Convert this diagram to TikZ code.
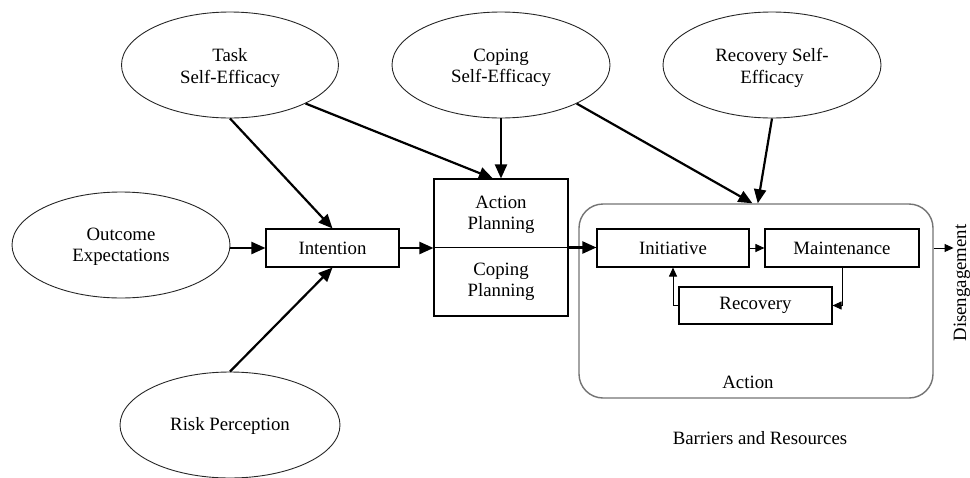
\documentclass[tikz,border=0pt]{standalone}
\usepackage{fontspec}
\setmainfont{Liberation Serif}
\usetikzlibrary{shapes.geometric,arrows.meta,calc}
\begin{document}
\begin{tikzpicture}[x=1pt,y=-1pt,
  every node/.style={font=\fontsize{18.8}{21.5}\selectfont, align=center, inner sep=0pt},
  oval/.style={ellipse, draw=black!85, line width=0.9pt},
  box/.style={rectangle, draw=black, line width=1.1pt},
  bigarrow/.style={line width=2.2pt, -{Triangle[length=14pt,width=12pt]}},
  smallarrow/.style={line width=1pt, -{Triangle[length=9pt,width=8pt]}}]
\useasboundingbox (0,0) rectangle (970,477);
% ellipses
\node[oval, minimum width=217pt, minimum height=106pt] (task) at (230,65) {};
\node[oval, minimum width=218pt, minimum height=106pt] (coping) at (501,65) {};
\node[oval, minimum width=218pt, minimum height=106pt] (recse) at (772,65) {};
\node[oval, minimum width=218pt, minimum height=106pt] (outcome) at (121,245) {};
\node[oval, minimum width=220pt, minimum height=106pt] (risk) at (230,425) {};
\node (tasklbl) at (230,68) {Task\\Self-Efficacy};
\node (copinglbl) at (501,68) {Coping\\Self-Efficacy};
\node (recselbl) at (772,68) {Recovery Self-\\Efficacy};
\node (outcomelbl) at (121,247) {Outcome\\Expectations};
\node (risklbl) at (230,426) {Risk Perception};
% boxes
\node[box, minimum width=133pt, minimum height=38pt] (intention) at (332.5,248) {Intention};
\node[box, minimum width=134pt, minimum height=137pt] (plan) at (501,247.5) {};
\node (aplan) at (501,215) {Action\\Planning};
\node (cplan) at (501,282) {Coping\\Planning};
\node[rectangle, draw=black!55, line width=1.4pt, rounded corners=24pt, minimum width=354pt, minimum height=194pt] (action) at (756,301) {};
\node[box, minimum width=152pt, minimum height=38pt] (init) at (673,248) {Initiative};
\node[box, minimum width=154pt, minimum height=38pt] (maint) at (842,248) {Maintenance};
\node[box, minimum width=153pt, minimum height=37pt] (recov) at (755.5,305.5) {Recovery};
\node (actlabel) at (748,382) {Action};
\node (barriers) at (760,438) {Barriers and Resources};
\node[rotate=90] (diseng) at (962,283) {Disengagement};
% connectors
\draw[bigarrow] (task.south) -- (intention.north);
\draw[bigarrow] (task.-27) -- ($(plan.north west)!0.44!(plan.north east)$);
\draw[bigarrow] (coping.south) -- (plan.north);
\draw[bigarrow] (coping.-27) -- ($(action.north west)!0.49!(action.north east)$);
\draw[bigarrow] (recse.south) -- ($(action.north west)!0.505!(action.north east)$);
\draw[bigarrow] (outcome.east |- intention.west) -- (intention.west);
\draw[bigarrow] (risk.north) -- (intention.south);
\draw[bigarrow] (intention.east) -- (intention.east -| plan.west);
\draw[line width=1.1pt] (plan.west) -- (plan.east);
\draw[bigarrow] (plan.east) -- (plan.east -| init.west);
\draw[smallarrow] (init.east) -- (maint.west);
\draw[smallarrow] (maint.south) |- (recov.east);
\draw[smallarrow] (recov.west) -| (init.south);
\draw[smallarrow] (action.east |- init.east) -- (diseng.north |- init.east);
\end{tikzpicture}
\end{document}
